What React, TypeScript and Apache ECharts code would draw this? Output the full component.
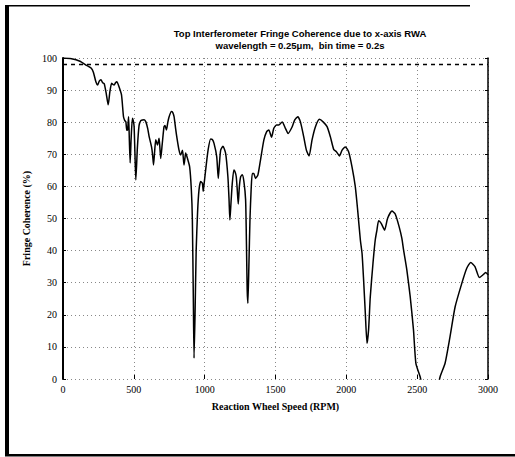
import React, { useEffect, useRef } from "react";
import * as echarts from "echarts";

const titleLines = [
  "Top Interferometer Fringe Coherence due to x-axis RWA",
  "wavelength = 0.25\u03bcm,  bin time = 0.2s",
];
const xAxisName = "Reaction Wheel Speed (RPM)";
const yAxisName = "Fringe Coherence (%)";

const rpm = [
  0, 60, 120, 162, 200, 215, 232, 244, 256, 268, 280, 291, 305, 319, 331, 343, 352, 361, 371, 380,
  396, 413, 427, 436, 444, 450, 456, 463, 468, 474, 481, 490, 496, 502, 508, 514, 525, 537, 549, 561,
  573, 585, 598, 608, 625, 632, 639, 647, 655, 667, 678, 684, 690, 700, 713, 720, 730, 740, 749, 765,
  775, 784, 795, 803, 819, 831, 843, 849, 854, 860, 866, 878, 894, 906, 913, 920, 925, 932, 940, 950,
  960, 972, 984, 990, 995, 1007, 1024, 1042, 1054, 1066, 1085, 1096, 1104, 1113, 1129, 1148, 1164, 1172, 1178, 1186,
  1195, 1206, 1215, 1223, 1230, 1237, 1245, 1254, 1265, 1277, 1289, 1295, 1300, 1305, 1312, 1320, 1328, 1336, 1347, 1359,
  1376, 1394, 1418, 1437, 1453, 1472, 1488, 1507, 1523, 1547, 1570, 1589, 1618, 1636, 1657, 1676, 1699, 1718, 1737, 1758,
  1782, 1810, 1836, 1864, 1887, 1911, 1930, 1951, 1970, 1993, 2016, 2040, 2063, 2080, 2099, 2111, 2122, 2134, 2146, 2157,
  2169, 2188, 2204, 2216, 2228, 2246, 2270, 2291, 2322, 2345, 2373, 2392, 2404, 2427, 2451, 2474, 2491, 2521, 2545, 2600,
  2640, 2662, 2697, 2732, 2768, 2815, 2850, 2878, 2908, 2939, 2963, 2984, 3000,
];
const coherence = [
  100, 99.8, 99, 97.8, 96.8, 95.5, 92.6, 91.6, 92.8, 93.2, 92.3, 92, 89, 85.4, 89.5, 92.1, 91.8, 91.6, 92.3, 92.6,
  91, 88.5, 81.7, 80.5, 80.1, 77.5, 77.6, 81.7, 75, 67.3, 75, 81.2, 80.5, 78.6, 70, 62, 72, 79, 80.5, 80.7,
  80.8, 80.1, 78, 75.5, 72.3, 70, 66.7, 71, 74.5, 72.9, 75, 72, 68.7, 73, 78.6, 79, 77.6, 80, 81.7, 83.3,
  83, 81.7, 78, 75.5, 71.3, 69.8, 71.3, 69, 66.7, 68.5, 70.4, 68.8, 66.1, 58.9, 50, 25, 6.5, 20, 40, 52,
  58.9, 61.5, 61, 58.5, 60.4, 65.1, 71.3, 74.8, 74.6, 73.4, 69.3, 62.5, 67, 71.3, 72.5, 70.3, 63, 56, 49.5, 55,
  61, 65.1, 64.5, 63, 59, 54.5, 60, 63, 63.6, 61.5, 55.8, 42, 28, 23.6, 35, 50, 59, 64, 64, 62.5,
  63.6, 68.2, 74.5, 77, 77.6, 75.3, 78.1, 79.1, 79.1, 80.1, 78.1, 76.5, 78.6, 80.7, 81.7, 80.1, 75.5, 71.3, 69.5, 74.5,
  78.6, 80.9, 80.1, 78.6, 75.5, 71.5, 70.8, 69.5, 71.3, 72.3, 70.8, 66.1, 60, 52.6, 43.3, 39.1, 30.8, 20.5, 11.1, 15.3,
  25.6, 36, 43.3, 46.4, 49.3, 48.5, 46.4, 50, 52.3, 51.4, 47.4, 43.8, 40.2, 34, 25.6, 15.3, 4.9, 0.7, -4, -12,
  -4, 0.7, 4.9, 13.2, 22.5, 29.8, 34.5, 36.3, 35, 31.6, 32.4, 33.2, 32.5,
];
const referenceLevel = 98;
const xRange = [0, 3000];

const serif = "Liberation Serif";
const sans = "Liberation Sans";

export default function App() {
  const ref = useRef<HTMLDivElement>(null);
  useEffect(() => {
    document.body.style.margin = "0";
    const chart = echarts.init(ref.current!, null, { renderer: "svg" });
    const dotted = { type: [1, 3] as any, color: "#888", width: 1 };
    chart.setOption({
      animation: false,
      backgroundColor: "#fff",
      grid: { left: 63, right: 27, top: 58, bottom: 78 },
      graphic: [
        { type: "rect", shape: { x: 5, y: 5, width: 4, height: 451 }, style: { fill: "#000" } },
        { type: "rect", shape: { x: 5, y: 5, width: 465, height: 1.5 }, style: { fill: "#000" } },
        { type: "rect", shape: { x: 5, y: 454, width: 510, height: 2.5 }, style: { fill: "#000" } },
        {
          type: "text",
          x: 300,
          y: 28,
          style: {
            text: titleLines[0],
            font: `bold 9.5px "${sans}"`,
            fill: "#000",
            align: "center",
          },
        },
        {
          type: "text",
          x: 300,
          y: 40,
          style: {
            text: titleLines[1],
            font: `bold 9.5px "${sans}"`,
            fill: "#000",
            align: "center",
          },
        },
      ],
      xAxis: {
        type: "value",
        min: 0,
        max: 3000,
        interval: 500,
        name: xAxisName,
        nameLocation: "middle",
        nameGap: 22,
        nameTextStyle: { fontFamily: serif, fontSize: 10, fontWeight: "bold", color: "#000" },
        axisLine: { show: false },
        axisTick: { show: true, inside: true, length: 4, lineStyle: { color: "#000" } },
        axisLabel: {
          fontFamily: serif,
          fontSize: 10,
          color: "#000",
          margin: 5,
          formatter: (v: number) => String(v),
        },
        splitLine: { show: true, lineStyle: dotted },
      },
      yAxis: [
        {
          type: "value",
          min: 0,
          max: 100,
          interval: 10,
          name: yAxisName,
          nameLocation: "middle",
          nameGap: 30,
          nameTextStyle: { fontFamily: serif, fontSize: 10, fontWeight: "bold", color: "#000" },
          axisLine: { show: true, lineStyle: { color: "#000", width: 2 } },
          axisTick: { show: true, inside: true, length: 3, lineStyle: { color: "#000" } },
          axisLabel: { fontFamily: serif, fontSize: 10, color: "#000", margin: 6 },
          splitLine: { show: true, lineStyle: dotted },
        },
        {
          type: "value",
          position: "right",
          min: 0,
          max: 100,
          interval: 10,
          axisLine: { show: true, lineStyle: { color: "#000", width: 1.5 } },
          axisTick: { show: true, inside: true, length: 3, lineStyle: { color: "#000" } },
          axisLabel: { show: false },
          splitLine: { show: false },
        },
      ],
      series: [
        {
          type: "line",
          data: rpm.map((r, i) => [r, coherence[i]]),
          showSymbol: false,
          symbol: "none",
          smooth: 0.2,
          clip: true,
          lineStyle: { color: "#000", width: 1.5 },
        },
        {
          type: "line",
          data: xRange.map((r) => [r, referenceLevel]),
          symbol: "none",
          lineStyle: { color: "#000", width: 1.5, type: [4, 4] },
        },
      ],
    });
    return () => chart.dispose();
  }, []);
  return <div ref={ref} style={{ width: 515, height: 457 }} />;
}
